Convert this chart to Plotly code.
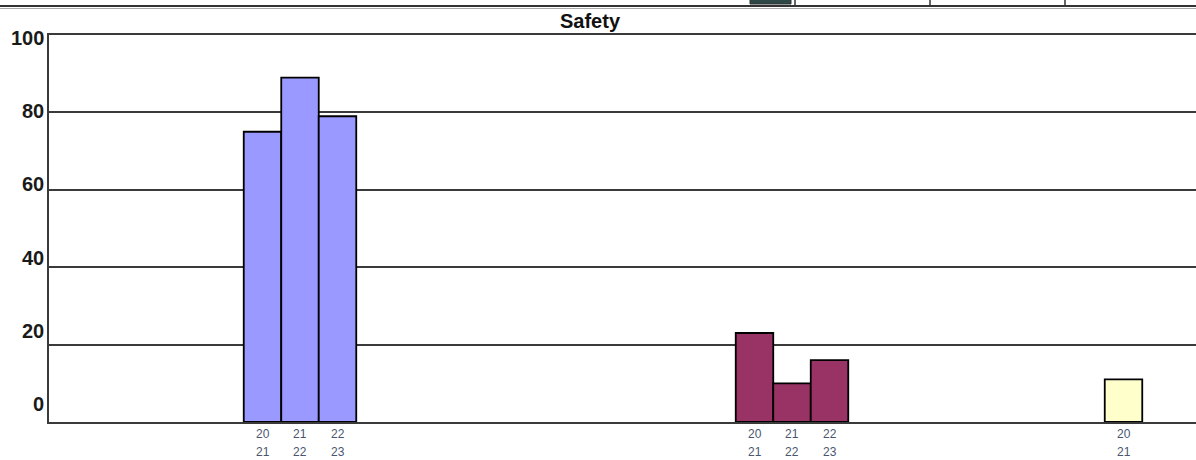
import plotly.graph_objects as go

# ---------------- data ----------------
title_text = "Safety"
groups = ["Group 1", "Group 2", "Group 3"]
years = ["2021", "2122", "2223"]
values_g1 = [75, 89, 79]
values_g2 = [23, 10, 16]
values_g3 = [11]
y_ticks = [0, 20, 40, 60, 80, 100]

series = [values_g1, values_g2, values_g3]

# ---------------- layout / style ----------------
W, H = 1196, 460
L, R, T, B = 49, 0, 35, 38
plot_w = W - L - R
plot_h = H - T - B
colors = ["#9999FF", "#993366", "#FFFFCC"]
group_slots = [0, 4, 7]          # slot of each group on the category axis
slot_px = 123.0                   # pixels per slot
origin_px = 300.0                 # pixel x of slot 0
bar_w = 37.5 / slot_px
x_range = [(L - origin_px) / slot_px, (W - R - origin_px) / slot_px]


def px_x(px):
    return (px - L) / plot_w


def px_y(py):
    return (H - B - py) / plot_h


fig = go.Figure()
annotations = []
for gi, vals in enumerate(series):
    xs = [group_slots[gi] + (i - 1) * bar_w for i in range(len(vals))]
    fig.add_trace(go.Bar(
        x=xs, y=vals, width=bar_w, name=groups[gi],
        marker=dict(color=colors[gi], line=dict(color="#000000", width=1.8)),
        showlegend=False,
    ))
    for x, yr in zip(xs, years):
        for part, py in ((yr[:2], 434), (yr[2:], 452)):
            annotations.append(dict(
                x=x, xref="x", y=px_y(py), yref="paper", text=part,
                showarrow=False, xanchor="center", yanchor="middle",
                font=dict(family="Arial", size=12, color="#4a5570"),
            ))

# y tick labels (drawn slightly off their gridlines, as in the reference)
for v in y_ticks:
    annotations.append(dict(
        x=0, xref="paper", y=v, yref="y", text=str(v), showarrow=False,
        xanchor="right", yanchor="middle", xshift=-3, yshift=18 - 0.21 * v,
        font=dict(family="Arial", size=20, color="#1a1a1a", weight="bold"),
    ))

# title
annotations.append(dict(
    x=px_x(590), xref="paper", y=px_y(21), yref="paper", text=title_text,
    showarrow=False, xanchor="center", yanchor="middle",
    font=dict(family="Arial", size=20, color="#111111", weight="bold"),
))

shapes = [
    dict(type="line", xref="paper", yref="paper", x0=px_x(0), x1=px_x(W),
         y0=px_y(6), y1=px_y(6), line=dict(color="#333333", width=2)),
    dict(type="line", xref="paper", yref="paper", x0=px_x(0), x1=px_x(W),
         y0=px_y(8.5), y1=px_y(8.5), line=dict(color="#aaaaaa", width=1)),
    dict(type="rect", xref="paper", yref="paper", x0=px_x(750), x1=px_x(791),
         y0=px_y(4), y1=px_y(-2), fillcolor="#2e4848",
         line=dict(color="#333333", width=1)),
]
for vx in (795, 930, 1065):
    shapes.append(dict(type="line", xref="paper", yref="paper",
                       x0=px_x(vx), x1=px_x(vx), y0=px_y(0), y1=px_y(6),
                       line=dict(color="#333333", width=1.5)))

fig.update_layout(
    width=W, height=H,
    margin=dict(l=L, r=R, t=T, b=B, pad=0),
    paper_bgcolor="white", plot_bgcolor="white",
    barmode="overlay",
    xaxis=dict(range=x_range, showgrid=False, zeroline=False,
               showticklabels=False, ticks="", showline=True, mirror=True,
               linecolor="#3a3a3a", linewidth=2, fixedrange=True),
    yaxis=dict(range=[0, 100], tickvals=y_ticks, showticklabels=False,
               showgrid=True, gridcolor="#3a3a3a", gridwidth=2,
               zeroline=False, showline=True, linecolor="#3a3a3a",
               linewidth=2, ticks="", fixedrange=True),
    annotations=annotations,
    shapes=shapes,
)

fig.write_html(
    "out.html",
    config={"displayModeBar": False},
    post_script="document.body.style.margin='0';document.body.style.overflow='hidden';",
)
